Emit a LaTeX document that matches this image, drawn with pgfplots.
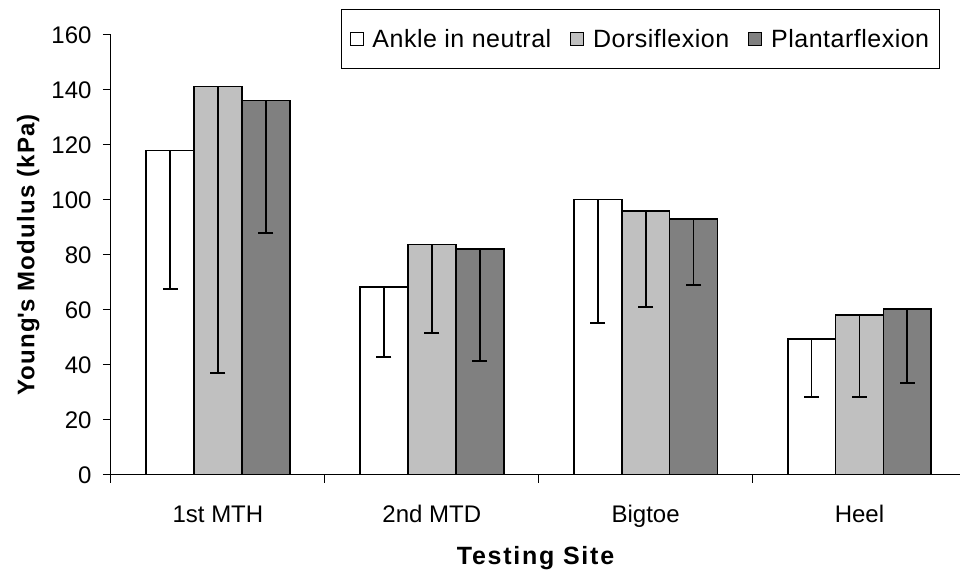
\documentclass[border=0pt]{standalone}
\usepackage{fontspec}
\setmainfont{Liberation Sans}
\usepackage{pgfplots}
\pgfplotsset{compat=1.18}
\usepackage{pgfplotstable}

% value and downward error (value - lower end)
\pgfplotstableread{
x val err
0 118.0 50.3
1 68.4 25.4
2 100.2 45.0
3 49.4 21.1
}\neutral
\pgfplotstableread{
x val err
0 141.3 104.1
1 83.8 32.1
2 95.9 34.8
3 58.1 29.8
}\dorsi
\pgfplotstableread{
x val err
0 136.2 48.1
1 82.3 40.8
2 93.0 24.0
3 60.3 26.9
}\plantar

\definecolor{lgray}{RGB}{192,192,192}
\definecolor{dgray}{RGB}{128,128,128}

\begin{document}
\begin{tikzpicture}
\begin{axis}[
  scale only axis,
  width=849pt, height=440pt,
  at={(0pt,0pt)}, anchor=south west,
  ybar=0pt, bar width=0.224,
  xmin=-0.5, xmax=3.47,
  ymin=0, ymax=160,
  ytick={0,20,...,160},
  xtick={0,1,2,3},
  xticklabels={1st MTH, 2nd MTD, Bigtoe, Heel},
  minor xtick={-0.5,0.5,1.5,2.5},
  axis x line*=bottom, axis y line*=left,
  axis line style={line width=1pt, black},
  tick align=outside,
  major tick length=8pt, minor tick length=8pt,
  tick style={line width=1pt, black},
  major x tick style={draw=none},
  /pgf/number format/assume math mode=true,
  tick label style={font=\fontsize{24}{28}\selectfont},
  yticklabel style={xshift=-8pt},
  xticklabel style={yshift=-19pt},
  xlabel={\bfseries Testing Site},
  ylabel={\bfseries Young\textquotesingle s Modulus (kPa)},
  label style={font=\fontsize{24}{28}\selectfont\addfontfeature{LetterSpace=5}},
  xlabel style={yshift=-12pt, font=\fontsize{25}{29}\selectfont\addfontfeature{LetterSpace=7}},
  ylabel style={yshift=5pt},
  legend columns=3,
  legend cell align=left,
  legend image code/.code={\draw[#1, line width=0.9pt] (0pt,-6.5pt) rectangle (13pt,6.5pt);},
  legend style={at={(0.976,1.059)}, anchor=north east, draw=black, line width=0.9pt,
    font=\fontsize{25}{29}\selectfont\addfontfeature{LetterSpace=2}, inner xsep=8pt, inner ysep=17.5pt,
    /tikz/every odd column/.append style={column sep=7pt},
    /tikz/every even column/.append style={column sep=17pt}},
  every axis plot/.append style={draw=black, line width=1.8pt},
  /pgfplots/error bars/y dir=minus,
  /pgfplots/error bars/y explicit,
  /pgfplots/error bars/error bar style={line width=1.8pt, black},
  /pgfplots/error bars/error mark options={rotate=90, line width=1.8pt, black, mark size=7.5pt},
]
\addplot[fill=white] table[x=x, y=val, y error=err] {\neutral};
\addlegendentry{Ankle in neutral}
\addplot[fill=lgray] table[x=x, y=val, y error=err] {\dorsi};
\addlegendentry{Dorsiflexion}
\addplot[fill=dgray] table[x=x, y=val, y error=err] {\plantar};
\addlegendentry{Plantarflexion}
\end{axis}
\path[use as bounding box] (-111pt,-103pt) rectangle (851pt,475pt);
\end{tikzpicture}
\end{document}
